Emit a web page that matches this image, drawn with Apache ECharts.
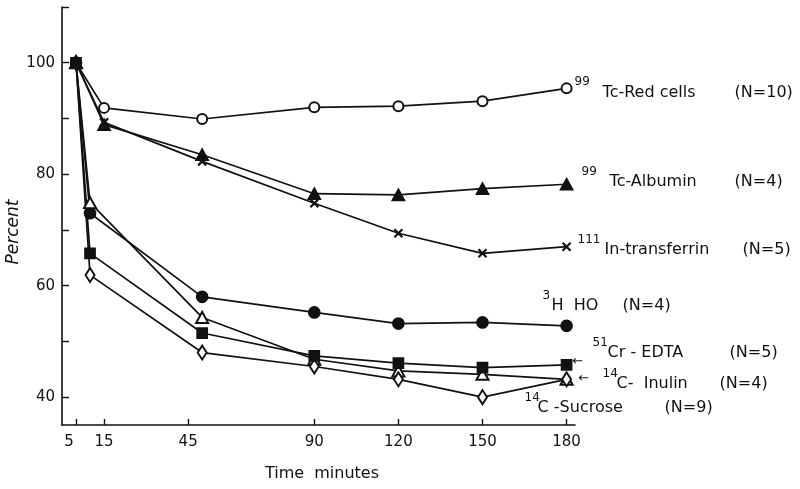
<!DOCTYPE html>
<html><head><meta charset="utf-8">
<script src="https://cdn.jsdelivr.net/npm/echarts@6/dist/echarts.min.js"></script>
<style>html,body{margin:0;padding:0;background:#fff}#c{width:800px;height:489px}</style>
</head><body><div id="c"></div>
<script>
// ---- data ----
const timesA = [5, 15, 50, 90, 120, 150, 180];
const timesB = [5, 10, 50, 90, 120, 150, 180];
const redCells    = [100, 91.9, 89.9, 92.0, 92.2, 93.1, 95.4];
const albumin     = [100, 88.9, 83.5, 76.5, 76.3, 77.4, 78.2];
const transferrin = [100, 89.3, 82.3, 74.8, 69.4, 65.8, 67.0];
const water       = [100, 73.0, 58.0, 55.2, 53.2, 53.4, 52.8];
const inulin      = [100, 74.9, 54.3, 46.8, 44.7, 44.1, 43.2];
const sucrose     = [100, 61.9, 48.0, 45.5, 43.2, 40.0, 43.2];
const crEdta      = [100, 65.8, 51.5, 47.4, 46.1, 45.3, 45.8];
const xTickValues = [5, 15, 45, 90, 120, 150, 180];
const yTickValues = [40, 50, 60, 70, 80, 90, 100, 110];
const yLabelValues = [40, 60, 80, 100];
const xTitle = 'Time  minutes';
const yTitle = 'Percent';

const INK = '#111';
const FONT = '"DejaVu Sans", "Liberation Sans", Arial, sans-serif';

const specs = [
  {name:'Tc-Red cells', t:timesA, v:redCells, symbol:'emptyCircle', size:10, sup:'99', main:'Tc-Red cells', n:'(N=10)', supW:28, mainW:132, off:[8,0]},
  {name:'Tc-Albumin', t:timesA, v:albumin, symbol:'triangle', size:[12,11], sup:'99', main:'Tc-Albumin', n:'(N=4)', supW:28, mainW:125, off:[15,-6]},
  {name:'In-transferrin', t:timesA, v:transferrin, symbol:'path://M0,0L10,10M10,0L0,10', size:8, sup:'111', main:'In-transferrin', n:'(N=5)', supW:27, mainW:138, off:[11,-1]},
  {name:'H HO', t:timesB, v:water, symbol:'circle', size:11, sup:'3', main:'H  HO', n:'(N=4)', supW:9, mainW:71, off:[-24,-24]},
  {name:'C-Inulin', t:timesB, v:inulin, symbol:'emptyTriangle', size:[12,11], sup:'14', main:'C-  Inulin', n:'(N=4)', supW:14, mainW:103, off:[36,1], arrow:[17,-1]},
  {name:'C-Sucrose', t:timesB, v:sucrose, symbol:'emptyDiamond', size:[9,14], sup:'14', main:'C -Sucrose', n:'(N=9)', supW:13, mainW:127, off:[-42,25]},
  {name:'Cr-EDTA', t:timesB, v:crEdta, symbol:'rect', size:10, sup:'51', main:'Cr - EDTA', n:'(N=5)', supW:15, mainW:122, off:[26,-16], arrow:[11,-3]}
];

const series = specs.map(s => {
  const data = s.t.map((t, i) => [t, s.v[i]]);
  const last = data[data.length - 1];
  const ser = {
    name: s.name,
    type: 'line',
    data: data,
    symbol: s.symbol,
    symbolSize: s.size,
    showAllSymbol: true,
    lineStyle: {color: INK, width: 1.7},
    itemStyle: {color: INK, borderColor: INK, borderWidth: s.symbol.indexOf('path') === 0 ? 2.2 : 1.7},
    endLabel: {
      show: true,
      distance: 0,
      align: 'left',
      verticalAlign: 'middle',
      offset: s.off,
      formatter: '{sup|' + s.sup + '}{main|' + s.main + '}{n|' + s.n + '}',
      rich: {
        sup: {fontSize: 12, fontFamily: FONT, color: INK, verticalAlign: 'top', width: s.supW},
        main: {fontSize: 16, fontFamily: FONT, color: INK, lineHeight: 24, verticalAlign: 'bottom', width: s.mainW},
        n: {fontSize: 16, fontFamily: FONT, color: INK, lineHeight: 24, verticalAlign: 'bottom'}
      }
    },
    emphasis: {disabled: true},
    z: 2
  };
  if (s.arrow) {
    ser.markPoint = {
      symbol: 'circle', symbolSize: 0,
      itemStyle: {color: 'rgba(0,0,0,0)'},
      label: {show: true, position: 'inside', offset: s.arrow, formatter: '\u2190',
              fontSize: 13, fontFamily: FONT, color: INK},
      data: [{coord: last}]
    };
  }
  return ser;
});

const chart = echarts.init(document.getElementById('c'), null, {renderer: 'canvas'});
chart.setOption({
  animation: false,
  backgroundColor: '#fff',
  grid: {left: 62, right: 225, top: 7, bottom: 64, containLabel: false},
  xAxis: {
    type: 'value', min: 0, max: 183,
    axisLine: {show: true, lineStyle: {color: INK, width: 1.6}},
    axisTick: {show: true, inside: true, length: 6, customValues: xTickValues, lineStyle: {color: INK, width: 1.4}},
    axisLabel: {show: true, margin: 10, customValues: xTickValues, fontSize: 15, fontFamily: FONT, color: INK,
      formatter: v => v === 5 ? '{a|5}' : String(v),
      rich: {a: {fontSize: 15, fontFamily: FONT, color: INK, padding: [0, 14, 0, 0]}}},
    splitLine: {show: false}
  },
  yAxis: {
    type: 'value', min: 35, max: 110,
    axisLine: {show: true, lineStyle: {color: INK, width: 1.6}},
    axisTick: {show: true, inside: true, length: 7, customValues: yTickValues, lineStyle: {color: INK, width: 1.4}},
    axisLabel: {show: true, margin: 7, customValues: yLabelValues, fontSize: 15, fontFamily: FONT, color: INK},
    splitLine: {show: false}
  },
  graphic: [
    {type: 'text', x: 14, y: 232, rotation: Math.PI / 2,
     style: {text: yTitle, font: 'italic 17px ' + FONT, fill: INK, align: 'center', verticalAlign: 'middle'}},
    {type: 'text', x: 322, y: 474,
     style: {text: xTitle, font: '16px ' + FONT, fill: INK, align: 'center', verticalAlign: 'middle'}}
  ],
  series: series
});
</script>
</body></html>
